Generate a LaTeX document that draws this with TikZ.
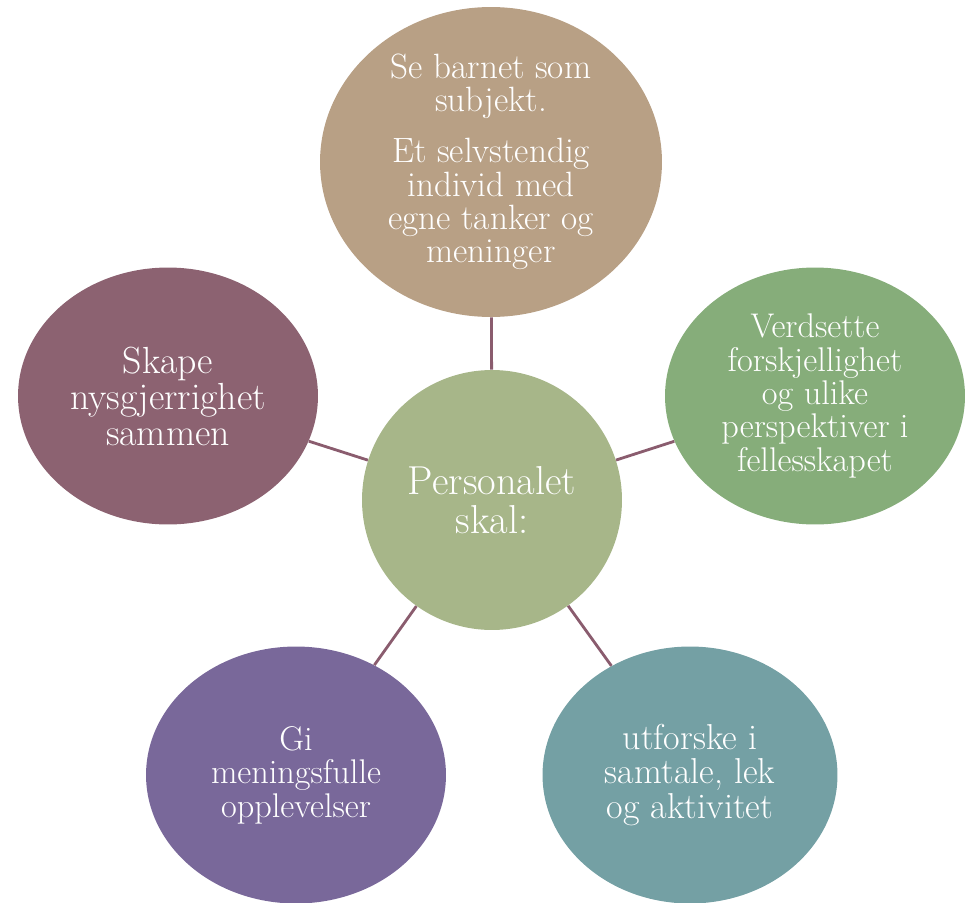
\documentclass[tikz,border=0pt]{standalone}
\usepackage{tikz}
\usetikzlibrary{shapes,positioning}

\definecolor{hubgreen}{HTML}{A7B689}
\definecolor{topbrown}{HTML}{B8A085}
\definecolor{leftmauve}{HTML}{8C6271}
\definecolor{rightgreen}{HTML}{86AD7A}
\definecolor{lowpurple}{HTML}{79689A}
\definecolor{lowteal}{HTML}{74A0A4}
\definecolor{linkmauve}{HTML}{8A5C6E}

\begin{document}
\begin{tikzpicture}[x=0.02cm, y=-0.02cm, font=\fontsize{19.5}{19}\selectfont,
hub/.style={circle, fill=hubgreen, text=white, minimum size=5.2cm, inner sep=0pt, align=center, font=\fontsize{23}{22}\selectfont},
leaf/.style={ellipse, text=white, inner sep=0pt, align=center, minimum width=6cm, minimum height=5.14cm},
line/.style={draw=linkmauve, line width=1.6pt}]

\useasboundingbox (0,0) rectangle (975,903);

% Nodes
\node[hub] (staff) at (492,500) {Personalet\\skal:};

\node[leaf, fill=topbrown, minimum width=6.84cm, minimum height=6.2cm, font=\fontsize{20}{19}\selectfont] (subject) at (491,162)
  {Se barnet som\\subjekt.\\[10pt]Et selvstendig\\individ med\\egne tanker og\\meninger};
\node[leaf, fill=rightgreen] (diverse) at (815,396)
  {Verdsette\\forskjellighet\\og ulike\\perspektiver i\\fellesskapet};
\node[leaf, fill=leftmauve, font=\fontsize{21.5}{20.5}\selectfont] (curious) at (168,396)
  {Skape\\nysgjerrighet\\sammen};
\node[leaf, fill=lowpurple, font=\fontsize{19.5}{19}\selectfont] (meaning) at (296,775)
  {Gi\\meningsfulle\\opplevelser};
\node[leaf, fill=lowteal, minimum width=5.9cm, font=\fontsize{20.5}{19.5}\selectfont] (explore) at (690,775)
  {utforske i\\samtale, lek\\og aktivitet};

% Paths
\path[line] (staff) -- (subject);
\path[line] (staff) -- (diverse);
\path[line] (staff) -- (curious);
\path[line] (staff) -- (meaning);
\path[line] (staff) -- (explore);
\end{tikzpicture}
\end{document}
